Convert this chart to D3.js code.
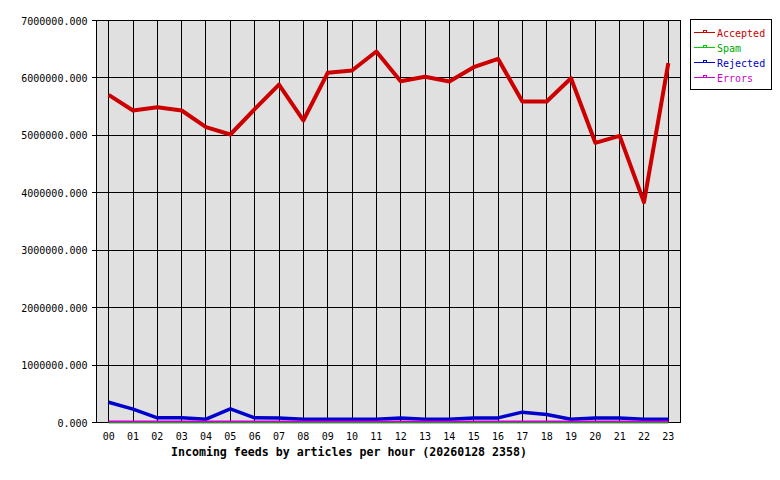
<!DOCTYPE html>
<html lang="en">
<head>
  <meta charset="utf-8">
  <title>Incoming feeds</title>
  <script src="https://cdn.jsdelivr.net/npm/d3@7"></script>
  <style type="text/css">
    body{ margin:0; background:#fff; }
    text{ font-family: "DejaVu Sans Mono", monospace; }
  </style>
</head>
<body>
  <script type="text/javascript">

    var width = 780;
    var height = 480;

    // hours on the x axis
    var hours = ["00","01","02","03","04","05","06","07","08","09","10","11",
                 "12","13","14","15","16","17","18","19","20","21","22","23"];

    // articles per hour
    var accepted = [5706000, 5433000, 5490000, 5433000, 5142000, 5015000, 5455000, 5885000,
                    5259000, 6089000, 6129000, 6460000, 5943000, 6019000, 5938000, 6187000,
                    6333000, 5589000, 5589000, 5995000, 4870000, 4992000, 3836000, 6257000];
    var spam     = [0,0,0,0,0,0,0,0,0,0,0,0,0,0,0,0,0,0,0,0,0,0,0,0];
    var rejected = [353000, 232000, 81000, 81000, 58000, 238000, 81000, 80000,
                    58000, 58000, 58000, 58000, 80000, 58000, 58000, 80000,
                    80000, 180000, 139000, 58000, 80000, 80000, 58000, 58000];
    var errors   = [16000,16000,16000,16000,16000,16000,16000,16000,16000,16000,16000,16000,
                    16000,16000,16000,16000,16000,16000,16000,16000,16000,16000,16000,16000];

    var yTicks = [0, 1000000, 2000000, 3000000, 4000000, 5000000, 6000000, 7000000];

    var series = [
      {name: "Accepted", values: accepted, color: "#cc0000", text: "#cc0000", w: 4},
      {name: "Spam",     values: spam,     color: "#00cc00", text: "#00aa00", w: 2},
      {name: "Rejected", values: rejected, color: "#0000cc", text: "#0000cc", w: 3.5},
      {name: "Errors",   values: errors,   color: "#cc00cc", text: "#cc00cc", w: 2}
    ];

    var plotL = 96.5, plotR = 680.5, plotT = 20.5, plotB = 422.5;

    var svg = d3.select("body")
            .append("svg")
            .attr("width", width)
            .attr("height", height);

    var xScale = d3.scaleBand().domain(hours).range([plotL, plotR]);
    var yScale = d3.scaleLinear().domain([0, 7000000]).range([plotB, plotT]);
    function xc(h){ return xScale(h) + xScale.bandwidth()/2; }

    // plot background
    svg.append("rect")
        .attr("x", plotL).attr("y", plotT)
        .attr("width", plotR-plotL).attr("height", plotB-plotT)
        .attr("fill", "#e0e0e0")
        .attr("stroke", "black")
        .attr("shape-rendering", "crispEdges");

    // horizontal grid + y labels
    var grid = svg.append("g").attr("shape-rendering", "crispEdges");
    grid.selectAll(".hgrid")
        .data(yTicks)
        .enter()
        .append("line")
        .attr("x1", plotL-5).attr("x2", plotR)
        .attr("y1", function(d){ return Math.floor(yScale(d)) + 0.5; })
        .attr("y2", function(d){ return Math.floor(yScale(d)) + 0.5; })
        .attr("stroke", "black");

    svg.selectAll(".ylab")
        .data(yTicks)
        .enter()
        .append("text")
        .attr("x", plotL-9)
        .attr("y", function(d){ return yScale(d) + 4; })
        .attr("text-anchor", "end")
        .attr("font-size", "10px")
        .attr("fill", "#000")
        .text(function(d){ return d3.format(".3f")(d); });

    // vertical grid + x labels
    grid.selectAll(".vgrid")
        .data(hours)
        .enter()
        .append("line")
        .attr("x1", function(d){ return Math.floor(xc(d)) + 0.5; })
        .attr("x2", function(d){ return Math.floor(xc(d)) + 0.5; })
        .attr("y1", plotT).attr("y2", plotB)
        .attr("stroke", "black");

    svg.selectAll(".xlab")
        .data(hours)
        .enter()
        .append("text")
        .attr("x", function(d){ return xc(d); })
        .attr("y", 440)
        .attr("text-anchor", "middle")
        .attr("font-size", "10px")
        .attr("fill", "#000")
        .text(function(d){ return d; });

    svg.append("text")
        .attr("x", 349)
        .attr("y", 456)
        .attr("text-anchor", "middle")
        .attr("font-size", "11.6px")
        .attr("font-weight", "bold")
        .attr("fill", "#000")
        .text("Incoming feeds by articles per hour (20260128 2358)");

    // lines, drawn back to front so errors sits on top at the bottom
    var line = d3.line()
        .x(function(d, i){ return xc(hours[i]); })
        .y(function(d){ return yScale(d); });

    svg.selectAll(".series")
        .data(series)
        .enter()
        .append("path")
        .attr("d", function(s){ return line(s.values); })
        .attr("fill", "none")
        .attr("stroke", function(s){ return s.color; })
        .attr("stroke-width", function(s){ return s.w; })
        .attr("stroke-linejoin", "round");

    // legend
    var lg = svg.append("g");
    lg.append("rect")
        .attr("x", 690.5).attr("y", 19.5)
        .attr("width", 81).attr("height", 70)
        .attr("fill", "white")
        .attr("stroke", "black")
        .attr("shape-rendering", "crispEdges");

    var items = lg.selectAll(".item")
        .data(series)
        .enter()
        .append("g")
        .attr("transform", function(d, i){ return "translate(0," + (32.5 + i*15) + ")"; });

    items.append("line")
        .attr("x1", 694).attr("x2", 715)
        .attr("y1", 0).attr("y2", 0)
        .attr("stroke", function(d){ return d.color; })
        .attr("shape-rendering", "crispEdges");
    items.append("rect")
        .attr("x", 703.5).attr("y", -2)
        .attr("width", 3).attr("height", 2)
        .attr("fill", "white")
        .attr("stroke", function(d){ return d.color; })
        .attr("shape-rendering", "crispEdges");
    items.append("text")
        .attr("x", 717)
        .attr("y", 4)
        .attr("font-size", "10px")
        .attr("fill", function(d){ return d.text; })
        .text(function(d){ return d.name; });

  </script>
</body>
</html>
